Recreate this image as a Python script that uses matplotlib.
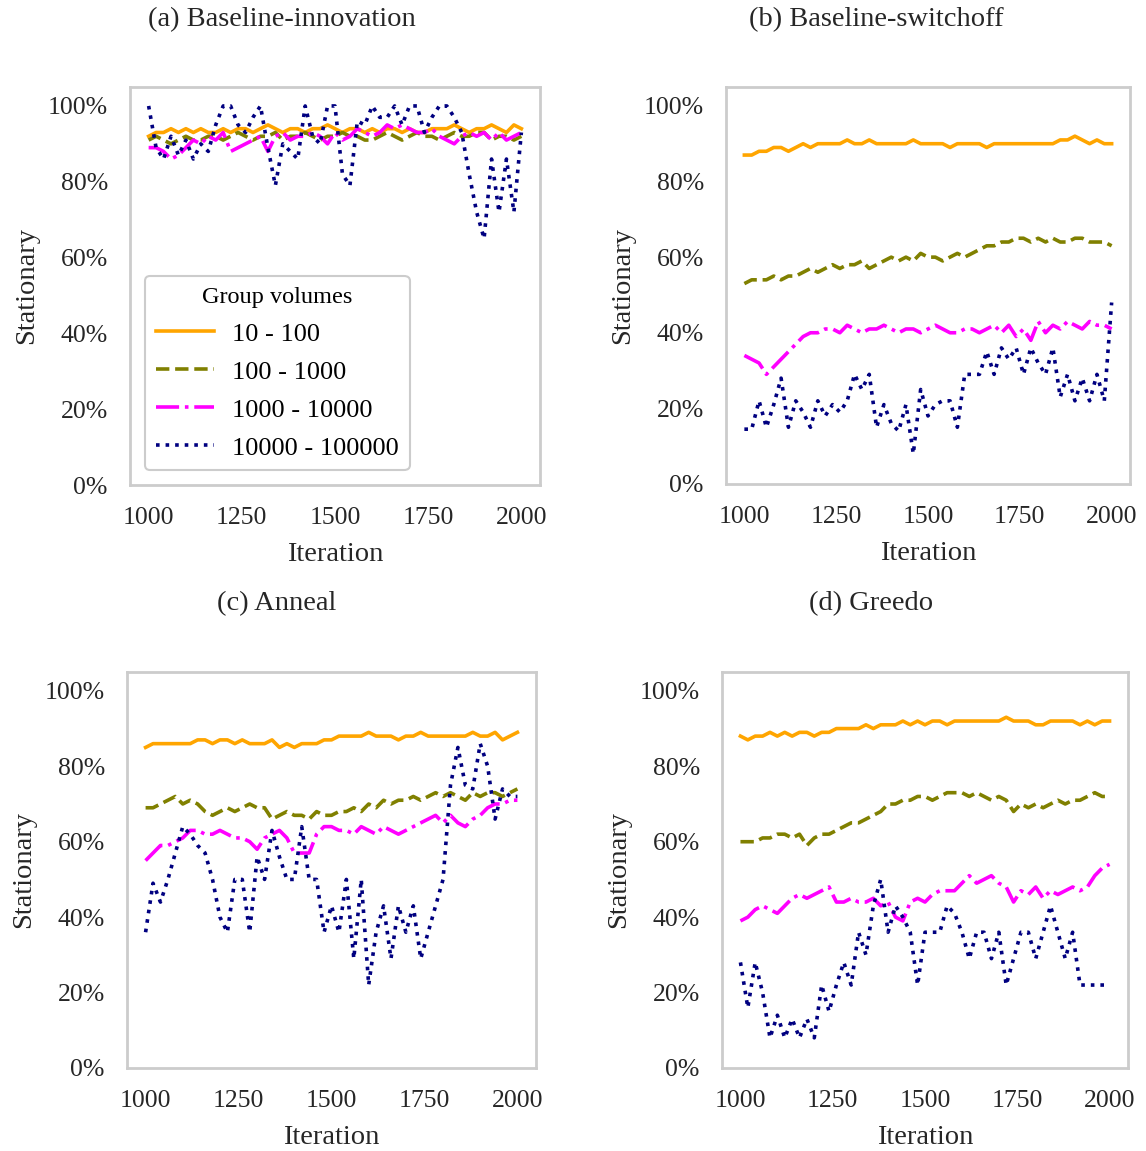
#!/usr/bin/env python3
import numpy as np
import matplotlib
matplotlib.use("Agg")
import matplotlib.pyplot as plt
from matplotlib.ticker import PercentFormatter

plt.rcParams['font.family'] = ['Liberation Serif', 'DejaVu Serif']

# iterations sampled every 20 steps
iters = np.arange(1000, 2001, 20)

groups = ["10 - 100", "100 - 1000", "1000 - 10000", "10000 - 100000"]
colors = ["orange", "olive", "magenta", "navy"]
styles = ["-", "--", "-.", ":"]

titles = ["(a) Baseline-innovation", "(b) Baseline-switchoff", "(c) Anneal", "(d) Greedo"]

# stationary share (%) per group volume, one list per panel
innov_10 = [92, 93, 93, 94, 93, 94, 93, 94, 93, 93, 94, 93, 94, 94, 93, 94, 95, 94, 93, 94, 94, 93, 94, 94, 95, 94,
            93, 94, 94, 93, 94, 93, 94, 94, 93, 94, 93, 93, 94, 94, 94, 95, 94, 93, 94, 94, 95, 94, 93, 95, 94]
innov_100 = [91, 92, 91, 90, 91, 92, 91, 91, 92, 92, 91, 92, 93, 92, 91, 92, 92, 93, 91, 92, 92, 93, 92, 91, 92, 92,
             93, 92, 92, 91, 91, 92, 93, 92, 91, 92, 93, 92, 92, 91, 92, 93, 92, 92, 93, 93, 91, 92, 92, 91, 92]
innov_1k = [89, 89, 88, 86, 87, 89, 91, 90, 92, 91, 93, 88, 89, 90, 91, 92, 88, 92, 93, 91, 92, 92, 93, 92, 90, 93,
            91, 92, 94, 93, 92, 93, 95, 94, 95, 94, 93, 93, 94, 92, 91, 90, 92, 93, 92, 93, 91, 93, 91, 92, 93]
innov_10k = [100, 89, 86, 92, 87, 91, 86, 90, 88, 95, 100, 100, 95, 93, 97, 100, 89, 79, 90, 88, 86, 100, 92, 90,
             100, 100, 82, 79, 96, 95, 100, 97, 97, 100, 95, 100, 100, 93, 97, 100, 100, 97, 93, 82, 72, 65, 86,
             72, 86, 72, 93]

switch_10 = [87, 87, 88, 88, 89, 89, 88, 89, 90, 89, 90, 90, 90, 90, 91, 90, 90, 91, 90, 90, 90, 90, 90, 91, 90, 90,
             90, 90, 89, 90, 90, 90, 90, 89, 90, 90, 90, 90, 90, 90, 90, 90, 90, 91, 91, 92, 91, 90, 91, 90, 90]
switch_100 = [53, 54, 54, 54, 55, 54, 55, 55, 56, 57, 56, 57, 58, 57, 58, 58, 59, 57, 58, 59, 60, 59, 60, 59, 61, 60,
              60, 59, 60, 61, 60, 61, 62, 63, 63, 64, 64, 65, 65, 64, 65, 64, 65, 64, 64, 65, 65, 64, 64, 64, 63]
switch_1k = [34, 33, 32, 29, 31, 33, 35, 37, 39, 40, 40, 41, 41, 40, 42, 41, 40, 41, 41, 42, 41, 40, 41, 41, 40, 41,
             42, 41, 40, 40, 41, 41, 40, 41, 42, 40, 42, 39, 41, 38, 43, 40, 42, 41, 43, 42, 41, 43, 42, 42, 41]
switch_10k = [14.5, 14.5, 22, 15, 21, 28, 15, 22, 19, 15, 22, 18, 21, 19, 22, 29, 25, 29, 15, 21, 16, 14, 21, 8, 25,
              18, 21, 22, 22, 15, 29, 29, 29, 35, 29, 36, 33, 36, 29, 36, 32, 29, 36, 23, 29, 22, 28, 22, 29, 22, 48]

anneal_10 = [85, 86, 86, 86, 86, 86, 86, 87, 87, 86, 87, 87, 86, 87, 86, 86, 86, 87, 85, 86, 85, 86, 86, 86, 87, 87,
             88, 88, 88, 88, 89, 88, 88, 88, 87, 88, 88, 89, 88, 88, 88, 88, 88, 88, 89, 88, 88, 89, 87, 88, 89]
anneal_100 = [69, 69, 70, 71, 72, 70, 71, 70, 68, 67, 68, 69, 68, 69, 70, 69, 69, 66, 67, 68, 67, 67, 66, 68, 67, 67,
              68, 68, 69, 68, 70, 69, 71, 70, 71, 71, 72, 71, 72, 73, 72, 73, 72, 71, 73, 72, 73, 73, 72, 73, 74]
anneal_1k = [55, 57, 59, 59, 60, 61, 63, 63, 62, 62, 63, 62, 61, 61, 60, 58, 61, 62, 63, 61, 57, 57, 57, 62, 64, 64,
             63, 63, 62, 64, 63, 62, 64, 63, 62, 63, 64, 65, 66, 67, 65, 67, 65, 64, 66, 67, 69, 70, 70, 71, 71]
anneal_10k = [36, 49, 44, 50, 57, 64, 62, 59, 57, 50, 40, 36, 50, 50, 36, 56, 50, 63, 56, 50, 50, 64, 50, 50, 36, 43,
              36, 50, 29, 50, 22, 36, 43, 29, 43, 36, 43, 29, 36, 43, 50, 75, 85, 75, 74, 86, 80, 66, 74, 72, 72]

greedo_10 = [88, 87, 88, 88, 89, 88, 89, 88, 89, 89, 88, 89, 89, 90, 90, 90, 90, 91, 90, 91, 91, 91, 92, 91, 92, 91,
             92, 92, 91, 92, 92, 92, 92, 92, 92, 92, 93, 92, 92, 92, 91, 91, 92, 92, 92, 92, 91, 92, 91, 92, 92]
greedo_100 = [60, 60, 60, 61, 61, 62, 62, 61, 62, 59, 61, 62, 62, 63, 64, 65, 65, 66, 67, 68, 70, 70, 71, 71, 72, 72,
              71, 72, 73, 73, 73, 72, 73, 72, 71, 72, 71, 68, 70, 69, 70, 69, 70, 71, 70, 71, 71, 72, 73, 72, 72]
greedo_1k = [39, 40, 42, 43, 42, 41, 43, 45, 46, 45, 46, 47, 48, 44, 44, 45, 44, 44, 45, 43, 44, 40, 39, 44, 45, 44,
             46, 47, 47, 47, 49, 51, 49, 50, 51, 49, 48, 44, 47, 46, 48, 45, 47, 46, 47, 48, 47, 48, 51, 53, 54]
greedo_10k = [28, 16, 28, 20, 8, 14, 8, 13, 8, 13, 8, 22, 15, 22, 28, 22, 36, 30, 43, 50, 36, 43, 40, 36, 22, 36,
              36, 36, 43, 41, 36, 29, 36, 36, 29, 36, 22, 29, 36, 36, 29, 36, 43, 36, 29, 36, 22, 22, 22, 22, 22]

panels = [
    [innov_10, innov_100, innov_1k, innov_10k],
    [switch_10, switch_100, switch_1k, switch_10k],
    [anneal_10, anneal_100, anneal_1k, anneal_10k],
    [greedo_10, greedo_100, greedo_1k, greedo_10k],
]

W, H = 1146, 1151
fig = plt.figure(figsize=(W / 100, H / 100), dpi=100)

# axes boxes in pixels: left, top, right, bottom
boxes = [(130, 87, 540, 485), (726, 87, 1130, 484), (127, 672, 536, 1068), (722, 672, 1128, 1068)]
title_pos = [(282, 20), (876, 20), (277, 604), (871, 604)]

for i, (series, box) in enumerate(zip(panels, boxes)):
    l, t, r, b = box
    ax = fig.add_axes([l / W, 1 - b / H, (r - l) / W, (b - t) / H])
    for vals, lab, c, ls in zip(series, groups, colors, styles):
        ax.plot(iters, np.array(vals) / 100.0, color=c, linestyle=ls, linewidth=2.6, label=lab)
    ax.set_ylim(0, 1.05)
    ax.set_xlim(950, 2050)
    ax.set_xticks([1000, 1250, 1500, 1750, 2000])
    ax.set_yticks(np.arange(0, 1.01, 0.2))
    ax.yaxis.set_major_formatter(PercentFormatter(1.0, decimals=0))
    ax.tick_params(length=0, pad=16, labelsize=18.5, colors="#262626")
    for s in ax.spines.values():
        s.set_color("#cccccc")
        s.set_linewidth(2)
    ax.set_xlabel("Iteration", fontsize=20.5, color="#262626", labelpad=9)
    ax.set_ylabel("Stationary", fontsize=20.5, color="#262626", labelpad=6)
    tx, ty = title_pos[i]
    fig.text(tx / W, 1 - ty / H, titles[i], fontsize=20.5, ha="center", va="center", color="#262626")
    if i == 0:
        leg = ax.legend(title="Group volumes", loc="upper left", bbox_to_anchor=(0.037, 0.525),
                        borderaxespad=0, fontsize=19, title_fontsize=17.5, handlelength=2.2,
                        handletextpad=0.7, labelspacing=0.55, framealpha=1, fancybox=True)
        leg.get_frame().set_edgecolor("#cccccc")
        leg.get_frame().set_linewidth(1.5)

fig.savefig("out.png", dpi=100, facecolor="white")
